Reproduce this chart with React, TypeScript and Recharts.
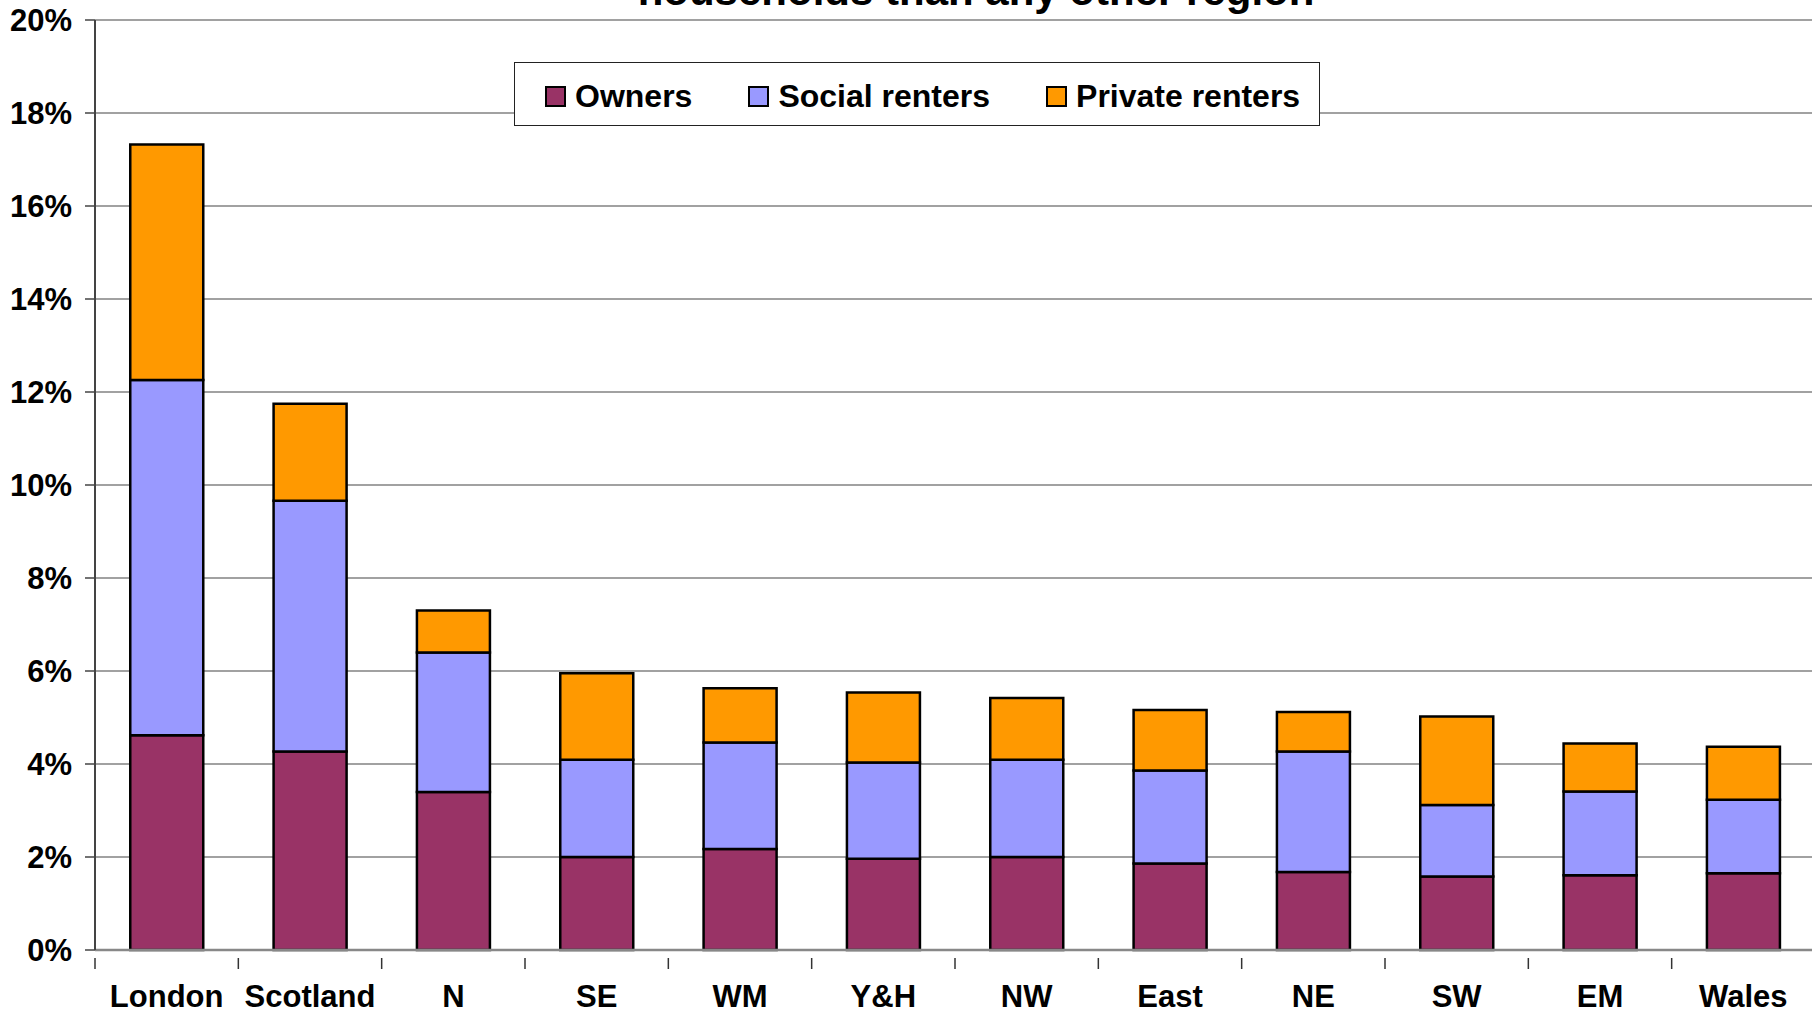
import React from "react";
import { BarChart, Bar, XAxis, YAxis, CartesianGrid, Legend } from "recharts";

const regions = ["London", "Scotland", "N", "SE", "WM", "Y&H", "NW", "East", "NE", "SW", "EM", "Wales"];
const owners = [4.62, 4.27, 3.4, 2.0, 2.17, 1.96, 2.0, 1.86, 1.68, 1.58, 1.61, 1.65];
const socialRenters = [7.64, 5.39, 3.0, 2.09, 2.29, 2.07, 2.09, 2.0, 2.59, 1.54, 1.8, 1.58];
const privateRenters = [5.06, 2.09, 0.9, 1.86, 1.17, 1.51, 1.33, 1.3, 0.85, 1.9, 1.03, 1.14];
const yTicks = [0, 2, 4, 6, 8, 10, 12, 14, 16, 18, 20];
const seriesNames = ["Owners", "Social renters", "Private renters"];
const seriesColors = ["#993366", "#9999FF", "#FF9900"];

const titleText = "households than any other region";

const data = regions.map((name, i) => ({
  name,
  owners: owners[i],
  social: socialRenters[i],
  private: privateRenters[i],
}));

const FONT = '"Liberation Sans", Arial, sans-serif';
const CHART_W = 1830;
const CHART_H = 1011;
const MARGIN = { top: 20, right: 15, left: 0, bottom: 0 };
const Y_AXIS_W = 95;
const band = (CHART_W - MARGIN.right - MARGIN.left - Y_AXIS_W) / regions.length;

// Excel style: tick marks sit between categories, labels in the middle
const XTick = (props: any) => {
  const { x, y, payload } = props;
  return (
    <g>
      <line x1={x - band / 2} x2={x - band / 2} y1={y} y2={y + 11} stroke="#333" strokeWidth={1.5} />
      <text x={x} y={y + 27} dy="0.71em" textAnchor="middle" fontFamily={FONT} fontWeight="bold" fontSize={31} fill="#000">
        {payload.value}
      </text>
    </g>
  );
};

// legend kept in the series order of the original, not sorted
const LegendBox = () => (
  <div
    style={{
      width: 806,
      height: 64,
      boxSizing: "border-box",
      border: "1.5px solid #222",
      background: "#fff",
      display: "flex",
      alignItems: "center",
      paddingLeft: 30,
      paddingTop: 4,
      fontFamily: FONT,
      fontWeight: "bold",
      fontSize: 32,
      whiteSpace: "nowrap",
      color: "#000",
    }}
  >
    {seriesNames.map((name, i) => (
      <div key={name} style={{ display: "flex", alignItems: "center", marginRight: 56 }}>
        <span
          style={{
            display: "inline-block",
            width: 17,
            height: 17,
            background: seriesColors[i],
            border: "2px solid #000",
            marginRight: 9,
          }}
        />
        <span>{name}</span>
      </div>
    ))}
  </div>
);

export default function App() {
  return (
    <div style={{ position: "absolute", left: 0, top: 0, width: 1812, height: 1011, overflow: "hidden", background: "#fff" }}>
      <svg style={{ position: "absolute", left: 0, top: 0, pointerEvents: "none" }} width={1812} height={40}>
        <text x={976} y={5} textAnchor="middle" fontFamily={FONT} fontWeight="bold" fontSize={42} fill="#000">
          {titleText}
        </text>
      </svg>
      <BarChart width={CHART_W} height={CHART_H} data={data} margin={MARGIN} barCategoryGap="24.6%">
        <CartesianGrid vertical={false} stroke="#444" strokeWidth={1.2} />
        <XAxis
          dataKey="name"
          height={61}
          axisLine={{ stroke: "#888", strokeWidth: 2.5 }}
          tickLine={false}
          tick={<XTick />}
          interval={0}
        />
        <YAxis
          width={Y_AXIS_W}
          domain={[0, 20]}
          ticks={yTicks}
          tickFormatter={(v: number) => `${v}%`}
          axisLine={{ stroke: "#444", strokeWidth: 2 }}
          tickLine={{ stroke: "#444", strokeWidth: 1.5 }}
          tickSize={10}
          tickMargin={13}
          tick={{ fontFamily: FONT, fontWeight: "bold", fontSize: 31, fill: "#000" }}
          interval={0}
        />
        <Legend
          layout="horizontal"
          align="center"
          verticalAlign="middle"
          content={<LegendBox />}
          wrapperStyle={{ position: "absolute", left: 514, top: 62, width: 806 }}
        />
        <Bar dataKey="owners" name={seriesNames[0]} stackId="a" fill={seriesColors[0]} stroke="#000" strokeWidth={2.5} isAnimationActive={false} />
        <Bar dataKey="social" name={seriesNames[1]} stackId="a" fill={seriesColors[1]} stroke="#000" strokeWidth={2.5} isAnimationActive={false} />
        <Bar dataKey="private" name={seriesNames[2]} stackId="a" fill={seriesColors[2]} stroke="#000" strokeWidth={2.5} isAnimationActive={false} />
      </BarChart>
    </div>
  );
}
